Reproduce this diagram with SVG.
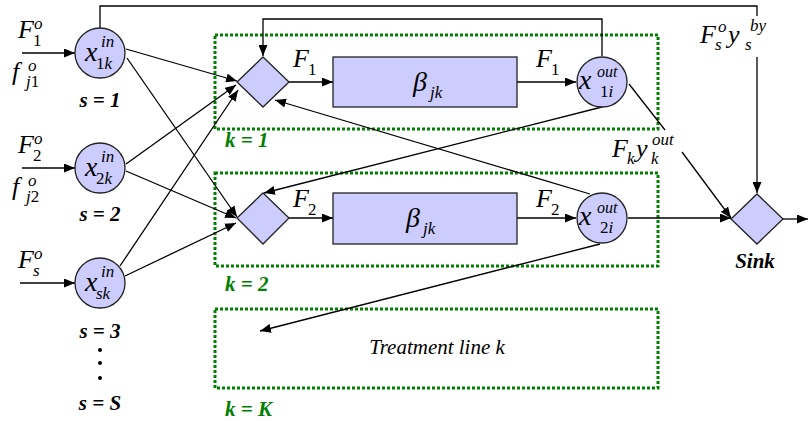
<svg xmlns="http://www.w3.org/2000/svg" width="809" height="421" viewBox="0 0 809 421">
  <style>
    .node { fill: #ccccff; stroke: #222; stroke-width: 1.3; }
    .conn { fill: none; stroke: #000; stroke-width: 1.3; }
    .arr { marker-end: url(#ah); }
    .line { fill: none; stroke: #008000; stroke-width: 3; stroke-dasharray: 3 2; }
    text { font-family: "Liberation Serif", serif; }
    .m { font-style: italic; fill: #000; }
    .up { font-style: normal; }
    .lbl { font-style: italic; font-weight: bold; font-size: 21px; fill: #000; }
    .kl { font-style: italic; font-weight: bold; font-size: 21px; fill: #008000; }
  </style>
  <defs>
    <marker id="ah" markerUnits="userSpaceOnUse" markerWidth="11" markerHeight="9" refX="11" refY="4.5" orient="auto">
      <path d="M0,0 L11,4.5 L0,9 z" fill="#000"/>
    </marker>
  </defs>
  <rect width="809" height="421" fill="#fff"/>

  <!-- treatment line frames -->
  <g id="line-1">
    <rect class="line" x="215" y="35" width="443" height="94"/>
    <text class="kl" x="225" y="147">k = 1</text>
  </g>
  <g id="line-2">
    <rect class="line" x="215" y="173" width="443" height="93"/>
    <text class="kl" x="225" y="291">k = 2</text>
  </g>
  <g id="line-K">
    <rect class="line" x="215" y="309" width="443" height="79"/>
    <text class="kl" x="225" y="416">k = K</text>
    <text class="m" x="437" y="354" font-size="21" text-anchor="middle">Treatment line k</text>
  </g>

  <!-- connectors -->
  <g id="connectors">
    <line class="conn arr" x1="22" y1="53" x2="75" y2="53"/>
    <line class="conn arr" x1="22" y1="168" x2="75" y2="168"/>
    <line class="conn arr" x1="20" y1="283" x2="75" y2="283"/>

    <line class="conn arr" x1="126" y1="49" x2="237" y2="81"/>
    <line class="conn arr" x1="127" y1="58" x2="237" y2="217"/>
    <line class="conn arr" x1="126" y1="164" x2="236" y2="85"/>
    <line class="conn arr" x1="126" y1="171" x2="236" y2="218"/>
    <line class="conn arr" x1="120" y1="266" x2="238" y2="90"/>
    <line class="conn arr" x1="125" y1="276" x2="236" y2="223"/>

    <line class="conn arr" x1="289" y1="82" x2="333" y2="82"/>
    <line class="conn arr" x1="517" y1="82" x2="576" y2="82"/>
    <line class="conn arr" x1="289" y1="218" x2="333" y2="218"/>
    <line class="conn arr" x1="517" y1="218" x2="576" y2="218"/>

    <polyline class="conn arr" points="602,56 602,19 263,19 263,56"/>
    <line class="conn arr" x1="602" y1="107" x2="264" y2="193"/>
    <line class="conn arr" x1="590" y1="194" x2="275" y2="100"/>
    <line class="conn arr" x1="600" y1="244" x2="260" y2="331"/>

    <line class="conn" x1="629" y1="84" x2="665" y2="130"/>
    <line class="conn arr" x1="682" y1="152" x2="731" y2="218"/>
    <line class="conn arr" x1="628" y1="218" x2="731" y2="218"/>

    <polyline class="conn" points="100,28 100,6 757,6 757,16"/>
    <line class="conn arr" x1="757" y1="57" x2="757" y2="193"/>
    <line class="conn arr" x1="783" y1="219" x2="808" y2="219"/>
  </g>

  <!-- source inputs -->
  <g id="src-1">
    <circle class="node" cx="100" cy="53" r="25"/>
    <text class="m" x="85" y="61" font-size="28">x</text>
    <text class="m" x="101" y="47" font-size="17">in</text>
    <text class="m" x="96" y="69" font-size="17"><tspan class="up">1</tspan>k</text>
    <text class="m" x="18" y="38" font-size="26">F</text>
    <text class="m" x="34" y="29" font-size="17">o</text>
    <text class="up m" x="33" y="46" font-size="17">1</text>
    <text class="m" x="12" y="80" font-size="26">f</text>
    <text class="m" x="28" y="71" font-size="17">o</text>
    <text class="m" x="26" y="87" font-size="17">j<tspan class="up">1</tspan></text>
    <text class="lbl" x="100" y="107" text-anchor="middle">s = 1</text>
  </g>
  <g id="src-2">
    <circle class="node" cx="100" cy="168" r="25"/>
    <text class="m" x="85" y="176" font-size="28">x</text>
    <text class="m" x="101" y="162" font-size="17">in</text>
    <text class="m" x="96" y="184" font-size="17"><tspan class="up">2</tspan>k</text>
    <text class="m" x="18" y="153" font-size="26">F</text>
    <text class="m" x="34" y="144" font-size="17">o</text>
    <text class="up m" x="33" y="161" font-size="17">2</text>
    <text class="m" x="12" y="195" font-size="26">f</text>
    <text class="m" x="28" y="186" font-size="17">o</text>
    <text class="m" x="26" y="202" font-size="17">j<tspan class="up">2</tspan></text>
    <text class="lbl" x="100" y="221" text-anchor="middle">s = 2</text>
  </g>
  <g id="src-s">
    <circle class="node" cx="100" cy="283" r="25"/>
    <text class="m" x="85" y="291" font-size="28">x</text>
    <text class="m" x="101" y="277" font-size="17">in</text>
    <text class="m" x="96" y="299" font-size="17">sk</text>
    <text class="m" x="18" y="268" font-size="26">F</text>
    <text class="m" x="34" y="259" font-size="17">o</text>
    <text class="m" x="33" y="276" font-size="17">s</text>
    <text class="lbl" x="100" y="338" text-anchor="middle">s = 3</text>
    <circle cx="100" cy="350" r="2" fill="#000"/>
    <circle cx="100" cy="363" r="2" fill="#000"/>
    <circle cx="100" cy="378" r="2" fill="#000"/>
    <text class="lbl" x="100" y="410" text-anchor="middle">s = S</text>
  </g>

  <!-- line 1 -->
  <g id="mix-1">
    <polygon class="node" points="263,57 289,82 263,107 237,82"/>
  </g>
  <g id="treat-1">
    <rect class="node" x="333" y="57" width="184" height="50"/>
    <text class="m" x="413" y="91" font-size="28">β</text>
    <text class="m" x="430" y="98" font-size="17">jk</text>
    <text class="m" x="293" y="67" font-size="26">F</text>
    <text class="up m" x="308" y="75" font-size="17">1</text>
    <text class="m" x="536" y="67" font-size="26">F</text>
    <text class="up m" x="551" y="75" font-size="17">1</text>
  </g>
  <g id="out-1">
    <circle class="node" cx="602" cy="82" r="25"/>
    <text class="m" x="579" y="89" font-size="28">x</text>
    <text class="m" x="597" y="77" font-size="16">out</text>
    <text class="m" x="600" y="97" font-size="17"><tspan class="up">1</tspan>i</text>
  </g>

  <!-- line 2 -->
  <g id="mix-2">
    <polygon class="node" points="263,193 289,218 263,244 237,218"/>
  </g>
  <g id="treat-2">
    <rect class="node" x="333" y="193" width="184" height="51"/>
    <text class="m" x="406" y="227" font-size="28">β</text>
    <text class="m" x="423" y="234" font-size="17">jk</text>
    <text class="m" x="293" y="207" font-size="26">F</text>
    <text class="up m" x="308" y="215" font-size="17">2</text>
    <text class="m" x="536" y="207" font-size="26">F</text>
    <text class="up m" x="551" y="215" font-size="17">2</text>
  </g>
  <g id="out-2">
    <circle class="node" cx="602" cy="218" r="25"/>
    <text class="m" x="579" y="225" font-size="28">x</text>
    <text class="m" x="597" y="213" font-size="16">out</text>
    <text class="m" x="600" y="233" font-size="17"><tspan class="up">2</tspan>i</text>
  </g>

  <!-- sink -->
  <g id="sink">
    <polygon class="node" points="757,194 783,219 757,244 731,219"/>
    <text class="lbl" x="755" y="268" font-size="19" text-anchor="middle">Sink</text>
    <text class="m" x="612" y="157" font-size="26">F</text>
    <text class="m" x="627" y="164" font-size="17">k</text>
    <text class="m" x="636" y="157" font-size="26">y</text>
    <text class="m" x="651" y="164" font-size="17">k</text>
    <text class="m" x="652" y="145" font-size="17">out</text>
    <text class="m" x="700" y="43" font-size="26">F</text>
    <text class="m" x="718" y="32" font-size="17">o</text>
    <text class="m" x="715" y="50" font-size="17">s</text>
    <text class="m" x="728" y="43" font-size="26">y</text>
    <text class="m" x="750" y="31" font-size="17">by</text>
    <text class="m" x="745" y="50" font-size="17">s</text>
  </g>
</svg>
